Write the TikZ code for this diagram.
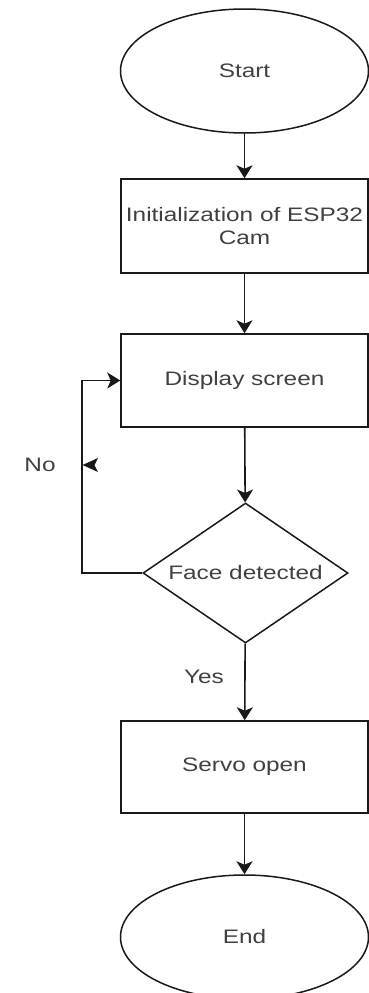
\documentclass[tikz,border=0pt]{standalone}
\usepackage{fontspec}
\setmainfont[FakeStretch=1.25]{Liberation Sans}
\usetikzlibrary{shapes.geometric,arrows.meta}
\begin{document}
\begin{tikzpicture}[x=1pt,y=-1pt,
  every node/.style={font=\fontsize{19.5pt}{23pt}\selectfont, text=black!75},
  shp/.style={draw=black!90, line width=1.5pt, inner sep=0pt},
  term/.style={shp, ellipse, minimum width=248pt, minimum height=124pt},
  proc/.style={shp, rectangle, minimum width=247pt, align=center},
  dec/.style={shp, diamond, aspect=1.46, minimum width=205pt, minimum height=140pt},
  arr/.style={draw=black!90, line width=1.6pt, -{Stealth[length=13pt,width=16pt,inset=3.5pt]}},
  lbl/.style={inner sep=0pt}]
\useasboundingbox (0,0) rectangle (369,993);
\node[term] (start) at (244.5,71) {Start};
\node[proc, minimum height=94pt] (init) at (244.5,226) {Initialization of ESP32\\Cam};
\node[proc, minimum height=93pt] (disp) at (244.5,380.5) {Display screen};
\node[dec] (face) at (245.5,573) {Face detected};
\node[proc, minimum height=92pt] (servo) at (244.5,767) {Servo open};
\node[term] (end) at (244.5,937) {End};
\node[lbl] (no) at (40,465) {No};
\node[lbl] (yes) at (204,677) {Yes};
\coordinate (lp) at (82,573);
\draw[arr] (start) -- (init);
\draw[arr] (init) -- (disp);
\draw[arr] (disp) -- (face);
\draw[arr] (face) -- (servo);
\draw[arr] (servo) -- (end);
\draw[arr] (face.west) -- (lp) |- (disp.west);
\fill[black!90] (82.5,465) -- (98,458) -- (94.5,465) -- (98,472) -- cycle;
\end{tikzpicture}
\end{document}
